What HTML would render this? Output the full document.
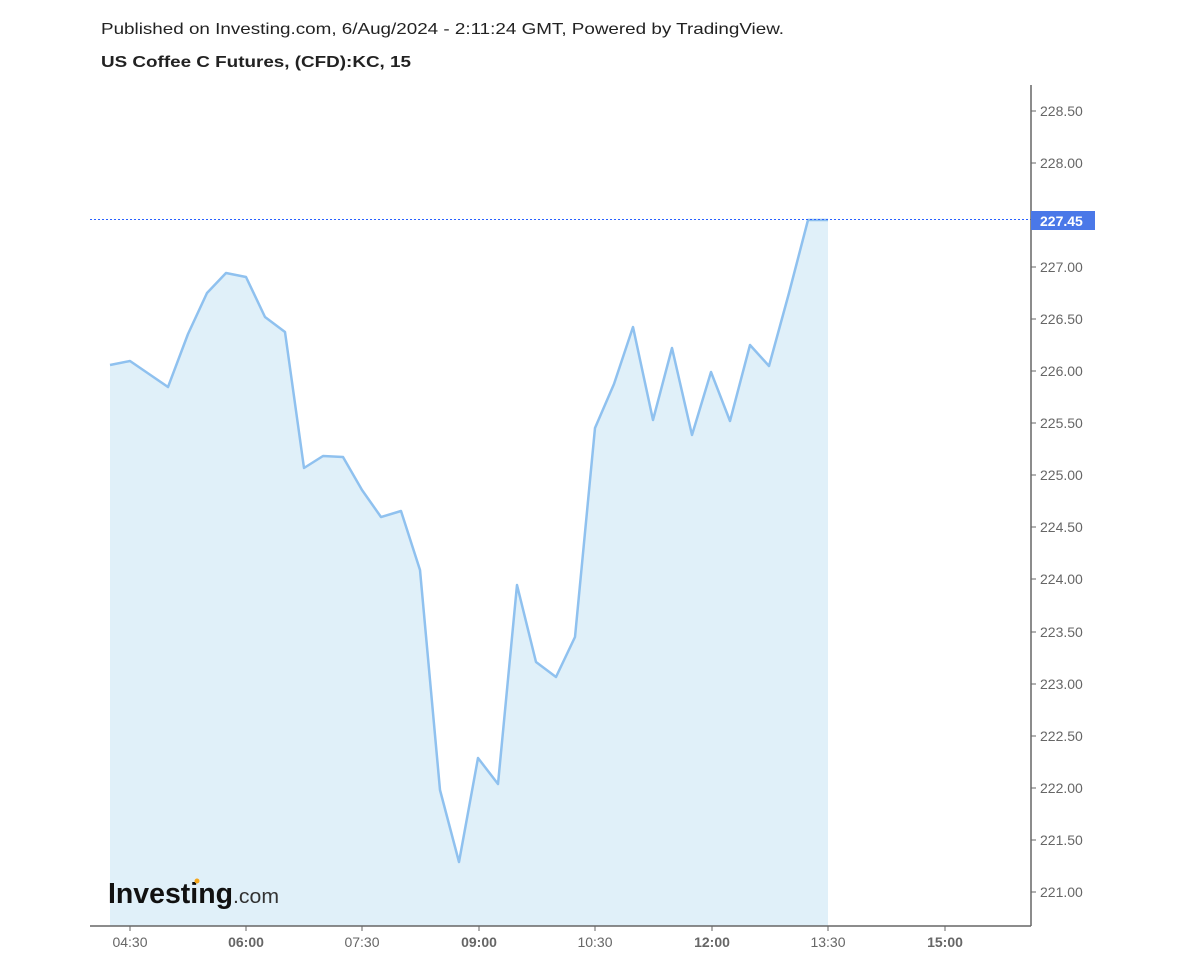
<!DOCTYPE html>
<html><head><style>body{margin:0;background:#fff}svg{display:block}</style></head>
<body>
<svg width="1200" height="960" xmlns="http://www.w3.org/2000/svg" font-family="Liberation Sans, sans-serif">
<rect width="1200" height="960" fill="#fff"/>
<text x="101" y="34" font-size="16" fill="#222" textLength="683" lengthAdjust="spacingAndGlyphs">Published on Investing.com, 6/Aug/2024 - 2:11:24 GMT, Powered by TradingView.</text>
<text x="101" y="67" font-size="16" font-weight="bold" fill="#222" textLength="310" lengthAdjust="spacingAndGlyphs">US Coffee C Futures, (CFD):KC, 15</text>
<polygon fill="#e0f0f9" points="110,926 110,365 130,361 149,374 168,387 188,334 207,293 226,273 246,277 265,317 285,332 304,468 323,456 343,457 362,490 381,517 401,511 420,570 440,790 459,862 478,758 498,784 517,585 536,662 556,677 575,637 595,428 614,384 633,327 653,420 672,348 692,435 711,372 730,421 750,345 769,366 789,293 808,220 828,220 828,926"/>
<polyline fill="none" stroke="#8fc1ef" stroke-width="2.5" stroke-linejoin="round" points="110,365 130,361 149,374 168,387 188,334 207,293 226,273 246,277 265,317 285,332 304,468 323,456 343,457 362,490 381,517 401,511 420,570 440,790 459,862 478,758 498,784 517,585 536,662 556,677 575,637 595,428 614,384 633,327 653,420 672,348 692,435 711,372 730,421 750,345 769,366 789,293 808,220 828,220"/>
<line x1="90" y1="219.5" x2="1031" y2="219.5" stroke="#2962ff" stroke-width="1" stroke-dasharray="2,2"/>
<text x="108" y="903" font-size="29" font-weight="bold" fill="#111" textLength="125" lengthAdjust="spacingAndGlyphs">Investing</text>
<text x="233" y="903" font-size="20" fill="#333" textLength="46" lengthAdjust="spacingAndGlyphs">.com</text>
<circle cx="197" cy="881" r="2.5" fill="#f4a61d"/>
<line x1="1031" y1="85" x2="1031" y2="926" stroke="#666" stroke-width="1.5"/>
<line x1="90" y1="926" x2="1031" y2="926" stroke="#666" stroke-width="1.5"/>
<g font-size="14" fill="#666">
<g stroke="#666">
<line x1="1031" x2="1036" y1="111" y2="111"/><line x1="1031" x2="1036" y1="163" y2="163"/><line x1="1031" x2="1036" y1="267" y2="267"/><line x1="1031" x2="1036" y1="319" y2="319"/><line x1="1031" x2="1036" y1="371" y2="371"/><line x1="1031" x2="1036" y1="423" y2="423"/><line x1="1031" x2="1036" y1="475" y2="475"/><line x1="1031" x2="1036" y1="527" y2="527"/><line x1="1031" x2="1036" y1="579" y2="579"/><line x1="1031" x2="1036" y1="632" y2="632"/><line x1="1031" x2="1036" y1="684" y2="684"/><line x1="1031" x2="1036" y1="736" y2="736"/><line x1="1031" x2="1036" y1="788" y2="788"/><line x1="1031" x2="1036" y1="840" y2="840"/><line x1="1031" x2="1036" y1="892" y2="892"/>
<line x1="130" x2="130" y1="926" y2="931"/><line x1="246" x2="246" y1="926" y2="931"/><line x1="362" x2="362" y1="926" y2="931"/><line x1="479" x2="479" y1="926" y2="931"/><line x1="595" x2="595" y1="926" y2="931"/><line x1="712" x2="712" y1="926" y2="931"/><line x1="828" x2="828" y1="926" y2="931"/><line x1="945" x2="945" y1="926" y2="931"/>
</g>
<text x="1040" y="116">228.50</text><text x="1040" y="168">228.00</text>
<text x="1040" y="272">227.00</text><text x="1040" y="324">226.50</text><text x="1040" y="376">226.00</text><text x="1040" y="428">225.50</text><text x="1040" y="480">225.00</text><text x="1040" y="532">224.50</text><text x="1040" y="584">224.00</text><text x="1040" y="637">223.50</text><text x="1040" y="689">223.00</text><text x="1040" y="741">222.50</text><text x="1040" y="793">222.00</text><text x="1040" y="845">221.50</text><text x="1040" y="897">221.00</text>
<g text-anchor="middle">
<text x="130" y="947">04:30</text><text x="246" y="947" font-weight="bold">06:00</text><text x="362" y="947">07:30</text><text x="479" y="947" font-weight="bold">09:00</text><text x="595" y="947">10:30</text><text x="712" y="947" font-weight="bold">12:00</text><text x="828" y="947">13:30</text><text x="945" y="947" font-weight="bold">15:00</text>
</g>
</g>
<rect x="1031" y="211" width="64" height="19" fill="#4a78e8"/>
<text x="1040" y="226" font-size="14" font-weight="bold" fill="#fff">227.45</text>
</svg>
</body></html>
